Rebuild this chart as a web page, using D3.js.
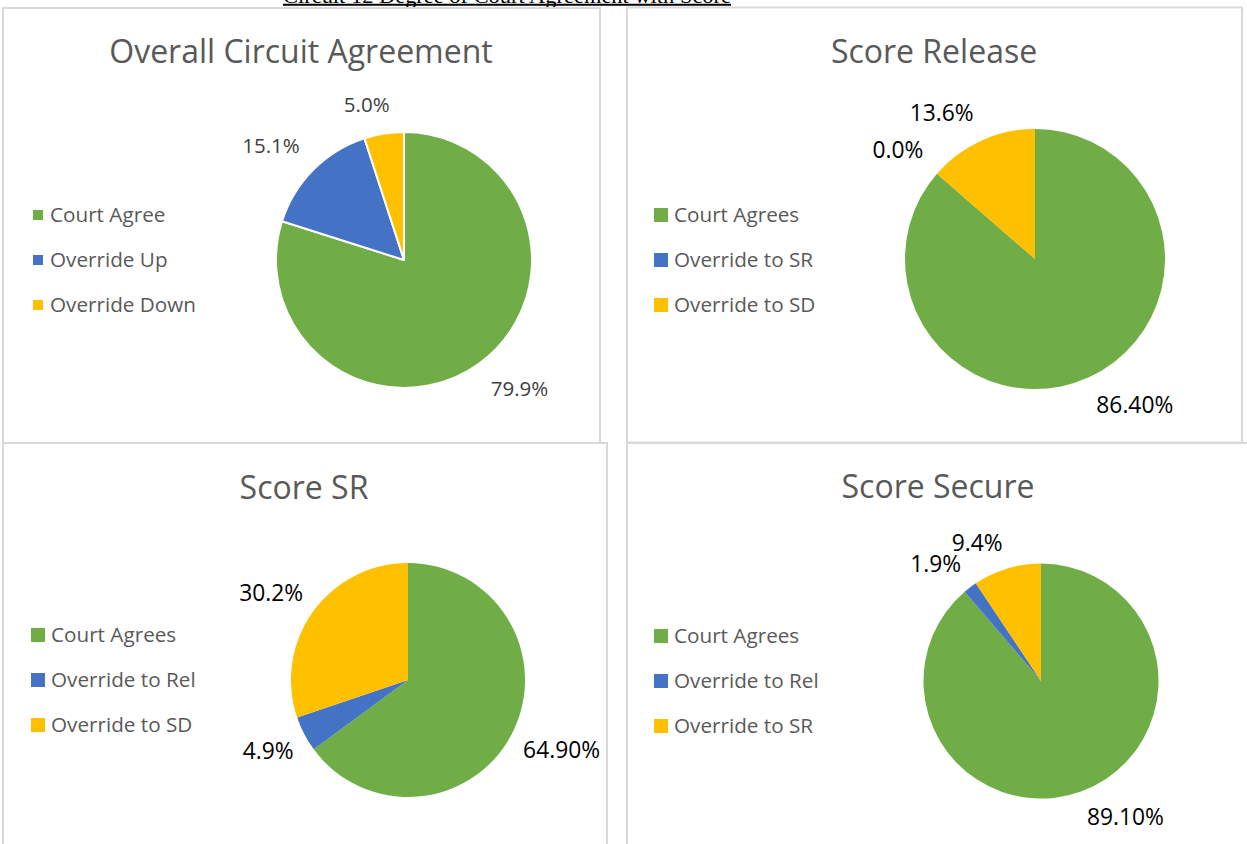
<!DOCTYPE html>
<html>
<head>
<meta charset="utf-8">
<script src="https://cdn.jsdelivr.net/npm/d3@7"></script>
<style>
  body { margin: 0; background: #fff; }
  svg { display: block; font-family: "Open Sans", sans-serif; }
</style>
</head>
<body>
<svg width="1247" height="844"></svg>
<script>
// data
var pageTitle = "Circuit 12 Degree of Court Agreement with Score";
var titles = ["Overall Circuit Agreement", "Score Release", "Score SR", "Score Secure"];

var legend1 = ["Court Agree", "Override Up", "Override Down"];
var legend2 = ["Court Agrees", "Override to SR", "Override to SD"];
var legend3 = ["Court Agrees", "Override to Rel", "Override to SD"];
var legend4 = ["Court Agrees", "Override to Rel", "Override to SR"];

var values1 = [79.9, 15.1, 5.0];
var values2 = [86.4, 0.0, 13.6];
var values3 = [64.9, 4.9, 30.2];
var values4 = [89.1, 1.9, 9.4];

var labels1 = ["79.9%", "15.1%", "5.0%"];
var labels2 = ["86.40%", "0.0%", "13.6%"];
var labels3 = ["64.90%", "4.9%", "30.2%"];
var labels4 = ["89.10%", "1.9%", "9.4%"];

var colors = ["#70AD47", "#4472C4", "#FFC000"];

// layout of the four chart boxes
var panels = [
  {box: [3, 8, 597, 435], cx: 404, cy: 260, r: 128, tx: 301, ty: 63,
   lx: 33, ly: 215, mk: 10, gap: 19, stroke: 2, lab: 20.5, labColor: "#404040",
   legend: legend1, values: values1, labels: labels1},
  {box: [627, 7.5, 615, 435], cx: 1035, cy: 259, r: 130, tx: 934, ty: 63,
   lx: 654, ly: 215, mk: 14, gap: 18, stroke: 0, lab: 22.8, labColor: "#000",
   legend: legend2, values: values2, labels: labels2},
  {box: [3, 443, 604, 420], cx: 408, cy: 680, r: 117, tx: 304, ty: 499,
   lx: 31, ly: 635, mk: 14, gap: 12, stroke: 0, lab: 22.8, labColor: "#000",
   legend: legend3, values: values3, labels: labels3},
  {box: [627, 443, 640, 420], cx: 1041, cy: 681, r: 117.5, tx: 938, ty: 498,
   lx: 654, ly: 636, mk: 14, gap: 15, stroke: 0, lab: 22.8, labColor: "#000",
   legend: legend4, values: values4, labels: labels4}
];

var svg = d3.select("svg");

// cut-off page heading at the very top
var head = svg.append("text")
    .attr("x", 507).attr("y", 2.5)
    .attr("text-anchor", "middle")
    .attr("font-family", "Liberation Serif, Times New Roman, serif")
    .attr("font-size", 21)
    .attr("textLength", 448)
    .attr("lengthAdjust", "spacingAndGlyphs")
    .attr("fill", "#000")
    .text(pageTitle);
svg.append("line")
    .attr("x1", 283).attr("x2", 731)
    .attr("y1", 4.8).attr("y2", 4.8)
    .attr("stroke", "#000").attr("stroke-width", 2);

var pie = d3.pie().sort(null).value(function(d) { return d; });

function clamp(v) { return Math.max(-1, Math.min(1, v)); }

panels.forEach(function(p, pi) {
  var g = svg.append("g");

  g.append("rect")
      .attr("x", p.box[0]).attr("y", p.box[1])
      .attr("width", p.box[2]).attr("height", p.box[3])
      .attr("fill", "#fff")
      .attr("stroke", "#d9d9d9")
      .attr("stroke-width", 2);

  g.append("text")
      .attr("x", p.tx).attr("y", p.ty)
      .attr("text-anchor", "middle")
      .attr("font-size", 32)
      .attr("fill", "#595959")
      .text(titles[pi]);

  var arc = d3.arc().innerRadius(0).outerRadius(p.r);
  var arcs = pie(p.values);

  var pg = g.append("g").attr("transform", "translate(" + p.cx + "," + p.cy + ")");

  pg.selectAll("path")
    .data(arcs)
    .enter().append("path")
      .attr("d", arc)
      .attr("fill", function(d, i) { return colors[i]; })
      .attr("stroke", p.stroke ? "#fff" : "none")
      .attr("stroke-width", p.stroke)
      .attr("stroke-linejoin", "round");

  // outside-end labels: box corner sits just off the rim
  pg.selectAll("text")
    .data(arcs)
    .enter().append("text")
      .attr("text-anchor", "middle")
      .attr("dy", "0.35em")
      .attr("font-size", p.lab)
      .attr("fill", p.labColor)
      .text(function(d, i) { return p.labels[i]; })
      .each(function(d) {
        var a = (d.startAngle + d.endAngle) / 2,
            sx = Math.sin(a), sy = -Math.cos(a),
            w = this.getComputedTextLength(), h = p.lab,
            rr = p.r + p.gap;
        var x = sx * rr + clamp(4 * sx) * w / 2,
            y = sy * rr + clamp(4 * sy) * h / 2;
        d3.select(this).attr("x", x).attr("y", y);
      });

  var lg = g.selectAll(".leg")
    .data(p.legend)
    .enter().append("g")
      .attr("class", "leg")
      .attr("transform", function(d, i) { return "translate(" + p.lx + "," + (p.ly + i * 45) + ")"; });

  lg.append("rect")
      .attr("x", 0).attr("y", -p.mk / 2)
      .attr("width", p.mk).attr("height", p.mk)
      .attr("fill", function(d, i) { return colors[i]; });

  lg.append("text")
      .attr("x", p.mk === 10 ? 17 : 20)
      .attr("dy", "0.35em")
      .attr("font-size", 20.7)
      .attr("fill", "#595959")
      .text(function(d) { return d; });
});
</script>
</body>
</html>
